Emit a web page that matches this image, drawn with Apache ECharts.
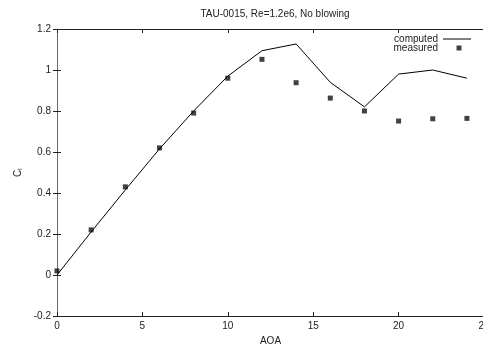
<!DOCTYPE html>
<html><head><meta charset="utf-8">
<script src="https://cdn.jsdelivr.net/npm/echarts@6/dist/echarts.min.js"></script>
<style>html,body{margin:0;padding:0;background:#fff}#c{width:483px;height:345px}</style>
</head><body><div id="c"></div>
<script>
var aoa = [0, 2, 4, 6, 8, 10, 12, 14, 16, 18, 20, 22, 24];
var computed = [0.0, 0.21, 0.415, 0.615, 0.80, 0.97, 1.094, 1.127, 0.94, 0.82, 0.98, 1.0, 0.96];
var measured = [0.02, 0.22, 0.43, 0.62, 0.79, 0.96, 1.052, 0.938, 0.863, 0.80, 0.751, 0.762, 0.764];

var font = 'Liberation Sans, Arial, sans-serif';
var chart = echarts.init(document.getElementById('c'), null, {renderer: 'canvas'});
function pairs(xs, ys) { return xs.map(function (x, i) { return [x, ys[i]]; }); }
var tickStyle = {show: true, inside: true, length: 4, lineStyle: {color: '#222', width: 1}};
var legText = {fontFamily: font, fontSize: 10, color: '#222'};
chart.setOption({
  animation: false,
  title: {text: 'TAU-0015, Re=1.2e6, No blowing', left: 270, top: 4, textAlign: 'center',
    textStyle: {fontFamily: font, fontSize: 10, fontWeight: 'normal', color: '#222'}},
  legend: [
    {orient: 'vertical', right: 12, top: 34, align: 'right', itemWidth: 28, itemHeight: 1,
     padding: 0, textStyle: legText, data: [{name: 'computed', icon: 'rect'}]},
    {orient: 'vertical', right: 12, top: 43, align: 'right', itemWidth: 28, itemHeight: 5,
     padding: 0, textStyle: legText, symbolKeepAspect: false,
     data: [{name: 'measured', icon: 'path://M0,2.5L0,2.5M28,2.5L28,2.5M13.5,0H18.5V5H13.5Z'}]}
  ],
  grid: {left: 57, top: 29, width: 427, height: 287, containLabel: false, outerBoundsMode: 'none'},
  xAxis: [{type: 'value', min: 0, max: 25, interval: 5, position: 'bottom',
    name: 'AOA', nameLocation: 'middle', nameGap: 20,
    nameTextStyle: {fontFamily: font, fontSize: 10, color: '#222'},
    axisLine: {show: true, onZero: false, lineStyle: {color: '#222', width: 1}},
    axisTick: tickStyle, splitLine: {show: false},
    axisLabel: {fontFamily: font, fontSize: 10, color: '#222', margin: 5, hideOverlap: false}},
   {type: 'value', min: 0, max: 25, interval: 5, position: 'top',
    axisLine: {show: true, onZero: false, lineStyle: {color: '#222', width: 1}},
    axisTick: tickStyle, splitLine: {show: false}, axisLabel: {show: false}}],
  yAxis: [{type: 'value', min: -0.2, max: 1.2, interval: 0.2, position: 'left',
    name: 'C\u2097', nameLocation: 'middle', nameGap: 34, nameRotate: 90,
    nameTextStyle: {fontFamily: font, fontSize: 10, color: '#222'},
    axisLine: {show: true, onZero: false, lineStyle: {color: '#666', width: 1}},
    axisTick: tickStyle, splitLine: {show: false},
    axisLabel: {fontFamily: font, fontSize: 10, color: '#222', margin: 6,
      formatter: function (v) { return String(Math.round(v * 10) / 10); }}},
   {type: 'value', min: -0.2, max: 1.2, interval: 0.2, position: 'right',
    axisLine: {show: false}, axisTick: {show: true, inside: true, length: 4, lineStyle: {color: '#222'}},
    splitLine: {show: false}, axisLabel: {show: false}}],
  series: [
    {name: 'computed', type: 'line', data: pairs(aoa, computed), symbol: 'none',
     lineStyle: {color: '#000', width: 1}, itemStyle: {color: '#000'}},
    {name: 'measured', type: 'scatter', data: pairs(aoa, measured), symbol: 'rect', symbolSize: 5,
     itemStyle: {color: '#111'}}
  ]
});
</script></body></html>
